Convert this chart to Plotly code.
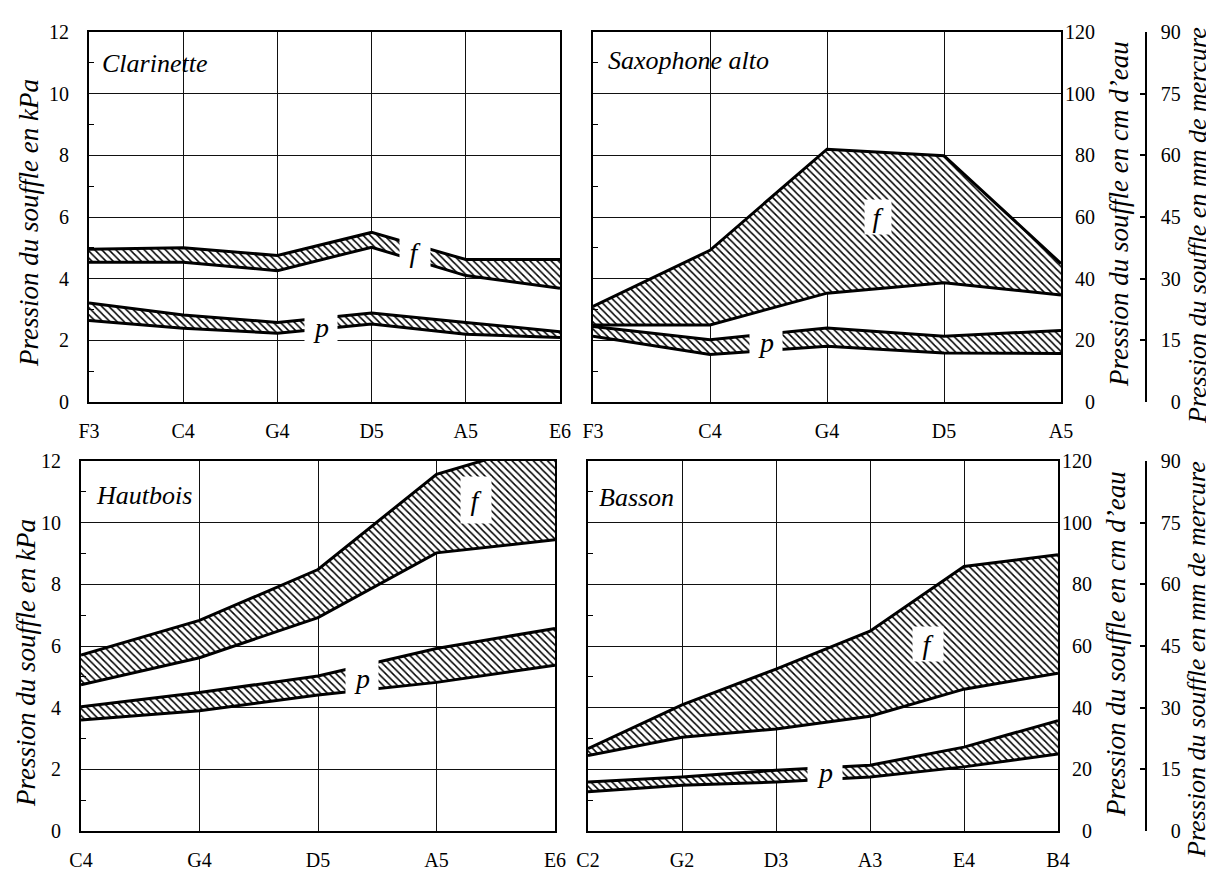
import plotly.graph_objects as go

# ---------------- data (kPa) ----------------
clar_notes = ["F3", "C4", "G4", "D5", "A5", "E6"]
clar_f_high = [4.95, 5.0, 4.75, 5.5, 4.62, 4.62]
clar_f_low = [4.53, 4.53, 4.26, 5.02, 4.1, 3.69]
clar_p_high = [3.21, 2.82, 2.58, 2.89, 2.58, 2.28]
clar_p_low = [2.64, 2.39, 2.23, 2.53, 2.2, 2.09]

sax_notes = ["F3", "C4", "G4", "D5", "A5"]
sax_f_high = [3.1, 4.92, 8.2, 7.99, 4.49]
sax_f_low = [2.5, 2.5, 3.53, 3.87, 3.47]
sax_p_high = [2.45, 2.02, 2.4, 2.13, 2.32]
sax_p_low = [2.13, 1.54, 1.81, 1.59, 1.57]

haut_notes = ["C4", "G4", "D5", "A5", "E6"]
haut_f_high = [5.71, 6.83, 8.48, 11.57, 12.7]
haut_f_low = [4.74, 5.62, 6.92, 9.02, 9.45]
haut_p_high = [4.03, 4.49, 5.03, 5.92, 6.57]
haut_p_low = [3.6, 3.9, 4.41, 4.82, 5.38]

bas_notes = ["C2", "G2", "D3", "A3", "E4", "B4"]
bas_f_high = [2.67, 4.09, 5.25, 6.48, 8.58, 8.96]
bas_f_low = [2.45, 3.04, 3.31, 3.72, 4.6, 5.12]
bas_p_high = [1.59, 1.75, 1.97, 2.13, 2.72, 3.58]
bas_p_low = [1.27, 1.48, 1.59, 1.75, 2.08, 2.5]

kpa_ticks = [0, 2, 4, 6, 8, 10, 12]
kpa_minor = [1, 3, 5, 7, 9, 11]
cm_ticks = [0, 20, 40, 60, 80, 100, 120]
mm_ticks = [0, 15, 30, 45, 60, 75, 90]

# label positions (data coords) : (text, x, y, box width, box height)
labels = {
    1: [("f", 3.46, 4.85, 30, 34), ("p", 2.46, 2.42, 32, 36)],
    2: [("f", 2.44, 6.0, 26, 34), ("p", 1.48, 1.93, 32, 32)],
    3: [("f", 3.33, 10.74, 30, 46), ("p", 2.37, 4.96, 32, 38)],
    4: [("f", 3.62, 6.05, 30, 34), ("p", 2.52, 1.92, 34, 32)],
}
titles = {1: "Clarinette", 2: "Saxophone alto", 3: "Hautbois", 4: "Basson"}

W, H = 1214, 873
FONT = "Liberation Serif"

# panel pixel boxes: left, right, top, bottom
boxes = {
    1: (81, 552, 24, 394),
    2: (585, 1053, 24, 394),
    3: (73, 547, 453, 823),
    4: (580, 1050, 453, 823),
}

panels = {
    1: (clar_notes, clar_f_low, clar_f_high, clar_p_low, clar_p_high),
    2: (sax_notes, sax_f_low, sax_f_high, sax_p_low, sax_p_high),
    3: (haut_notes, haut_f_low, haut_f_high, haut_p_low, haut_p_high),
    4: (bas_notes, bas_f_low, bas_f_high, bas_p_low, bas_p_high),
}


def fx(xp):
    return xp / W


def fy(yp):
    return 1 - yp / H


def rjust(vals):
    # right-align numeric tick labels using figure spaces
    txt = [str(v) for v in vals]
    n = max(len(t) for t in txt)
    return ["\u2007" * (n - len(t)) + t for t in txt]


fig = go.Figure()
pattern = dict(shape="\\", fgcolor="black", bgcolor="white", size=5,
               solidity=0.3, fillmode="replace")
line = dict(color="black", width=3)

for k, (notes, fl, fh, pl, ph) in panels.items():
    xs = list(range(len(notes)))
    xa = "x" if k == 1 else f"x{k}"
    ya = "y" if k == 1 else f"y{k}"
    for lo, hi in ((pl, ph), (fl, fh)):
        fig.add_trace(go.Scatter(x=xs, y=lo, mode="lines", line=line,
                                 xaxis=xa, yaxis=ya, showlegend=False,
                                 hoverinfo="skip"))
        fig.add_trace(go.Scatter(x=xs, y=hi, mode="lines", line=line,
                                 fill="tonexty", fillcolor="white",
                                 fillpattern=pattern,
                                 xaxis=xa, yaxis=ya, showlegend=False,
                                 hoverinfo="skip"))

tick_font = dict(family=FONT, size=20, color="black")
fig.update_layout(width=W, height=H,
                  margin=dict(l=0, r=0, t=0, b=0, autoexpand=False),
                  paper_bgcolor="white", plot_bgcolor="white", showlegend=False,
                  font=dict(family=FONT, size=20, color="black"))

for k, (notes, *_r) in panels.items():
    l, r, t, b = boxes[k]
    xkey = "xaxis" if k == 1 else f"xaxis{k}"
    ykey = "yaxis" if k == 1 else f"yaxis{k}"
    fig.update_layout({
        xkey: dict(
            domain=[fx(l), fx(r)], anchor="y" if k == 1 else f"y{k}",
            range=[0, len(notes) - 1], tickvals=list(range(len(notes))),
            ticktext=notes, showgrid=True, gridcolor="#111", gridwidth=1,
            showline=True, mirror=True, linecolor="black", linewidth=2,
            ticks="", zeroline=False, ticklabelstandoff=10,
            tickfont=tick_font, fixedrange=True),
        ykey: dict(
            domain=[fy(b), fy(t)], anchor="x" if k == 1 else f"x{k}",
            range=[0, 12], tickvals=kpa_ticks, showticklabels=(k in (1, 3)),
            showgrid=True, gridcolor="#111", gridwidth=1,
            showline=True, mirror=True, linecolor="black", linewidth=2,
            ticks="", zeroline=False, ticklabelstandoff=14,
            minor=dict(tickvals=kpa_minor, ticks="inside", ticklen=5,
                       tickcolor="black", tickwidth=1, showgrid=False),
            tickfont=tick_font, fixedrange=True),
    })

# right-hand unit axes for panels 2 and 4
extra = {2: (5, 6), 4: (7, 8)}
for k, (cm_i, mm_i) in extra.items():
    fig.update_layout({
        f"yaxis{cm_i}": dict(
            overlaying=f"y{k}", anchor=f"x{k}", side="right",
            range=[cm_ticks[0], cm_ticks[-1]], tickvals=cm_ticks,
            ticktext=rjust(cm_ticks),
            showgrid=False, showline=False, ticks="", zeroline=False,
            ticklabelstandoff=3, tickfont=tick_font, fixedrange=True),
        f"yaxis{mm_i}": dict(
            overlaying=f"y{k}", anchor="free", position=fx(1138), side="right",
            range=[mm_ticks[0], mm_ticks[-1]], tickvals=mm_ticks,
            ticktext=rjust(mm_ticks),
            showgrid=False, showline=True, linecolor="black", linewidth=1.5,
            ticks="inside", ticklen=5, tickwidth=1.5, tickcolor="black",
            zeroline=False, ticklabelstandoff=10, tickfont=tick_font,
            fixedrange=True),
    })
    fig.add_trace(go.Scatter(x=[0, 0], y=[cm_ticks[0], cm_ticks[-1]], mode="markers",
                             marker=dict(opacity=0), xaxis=f"x{k}", yaxis=f"y{cm_i}",
                             showlegend=False, hoverinfo="skip"))
    fig.add_trace(go.Scatter(x=[0, 0], y=[mm_ticks[0], mm_ticks[-1]], mode="markers",
                             marker=dict(opacity=0), xaxis=f"x{k}", yaxis=f"y{mm_i}",
                             showlegend=False, hoverinfo="skip"))

ann = []
for k, lst in labels.items():
    xr = "x" if k == 1 else f"x{k}"
    yr = "y" if k == 1 else f"y{k}"
    for txt, x, y, w, h in lst:
        ann.append(dict(text=txt, x=x, y=y, xref=xr, yref=yr, showarrow=False,
                        bgcolor="white", width=w, height=h, borderpad=0,
                        font=dict(family=FONT, size=28, color="black", style="italic")))
title_pos = {1: (92, 55), 2: (598, 52), 3: (86, 487), 4: (589, 489)}
for k, (xp, yp) in title_pos.items():
    ann.append(dict(text=titles[k], x=fx(xp), y=fy(yp), xref="paper", yref="paper",
                    xanchor="left", yanchor="middle", showarrow=False,
                    font=dict(family=FONT, size=26, color="black", style="italic")))
ax_titles = [
    ("Pression du souffle en kPa", 21, 215, 27),
    ("Pression du souffle en kPa", 18, 655, 27),
    ("Pression du souffle en cm d\u2019eau", 1111, 206, 27),
    ("Pression du souffle en cm d\u2019eau", 1108, 636, 27),
    ("Pression du souffle en mm de mercure", 1189, 218, 26),
    ("Pression du souffle en mm de mercure", 1188, 652, 26),
]
for txt, xp, yp, fs in ax_titles:
    ann.append(dict(text=txt, x=fx(xp), y=fy(yp), xref="paper", yref="paper",
                    xanchor="center", yanchor="middle", textangle=-90,
                    showarrow=False,
                    font=dict(family=FONT, size=fs, color="black", style="italic")))
fig.update_layout(annotations=ann)

fig.write_html("out.html")
